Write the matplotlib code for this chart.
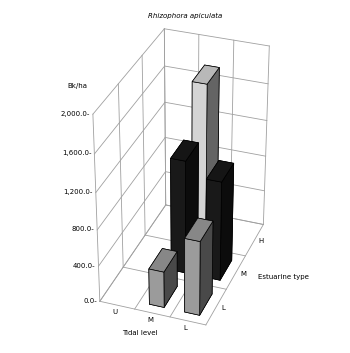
import matplotlib
matplotlib.use("Agg")
import matplotlib.pyplot as plt
import numpy as np

tidal_levels = ["U", "M", "L"]
estuarine_types = ["L", "M", "H"]
# density per tidal level (rows: estuarine type L, M, H)
density_L = [0, 400, 820]
density_M = [0, 1250, 1100]
density_H = [0, 1750, 0]
z_ticks = [0, 400, 800, 1200, 1600, 2000]
series_colors = ["#b0b0b0", "#1c1c1c", "#f0f0f0"]

fig = plt.figure(figsize=(3.5, 3.53), dpi=100)
ax = fig.add_axes([0.014, -0.005, 1.0, 1.0], projection="3d", proj_type="persp", focal_length=0.8)
ax.view_init(elev=32, azim=-70)
ax.set_box_aspect((0.6, 1.0, 1.15), zoom=0.85)

zmax = 2000
ax.set_xlim(0, 3)
ax.set_ylim(0, 3)
ax.set_zlim(0, zmax)
ax.set_axis_off()

gc = "#a0a0a0"
lw = 0.6
# back wall (y=3) grid
for xv in range(4):
    ax.plot([xv, xv], [3, 3], [0, zmax], color=gc, lw=lw)
for zv in z_ticks:
    ax.plot([0, 3], [3, 3], [zv, zv], color=gc, lw=lw)
# left wall (x=0) grid
for yv in range(4):
    ax.plot([0, 0], [yv, yv], [0, zmax], color=gc, lw=lw)
for zv in z_ticks:
    ax.plot([0, 0], [0, 3], [zv, zv], color=gc, lw=lw)
# floor grid
for xv in range(4):
    ax.plot([xv, xv], [0, 3], [0, 0], color=gc, lw=lw)
for yv in range(4):
    ax.plot([0, 3], [yv, yv], [0, 0], color=gc, lw=lw)

series = [density_L, density_M, density_H]
dx, dy = 0.42, 0.6
for j, vals in enumerate(series):
    for i, v in enumerate(vals):
        if v > 0:
            ax.bar3d(i + 0.5 - dx / 2, j + 0.5 - dy / 2, 0, dx, dy, v,
                     color=series_colors[j], edgecolor="black", linewidth=0.5,
                     shade=True)

for zv in z_ticks:
    ax.text(-0.08, 0, zv, f"{zv:,.1f}-", fontsize=5, ha="right", va="center")
for i, lab in enumerate(tidal_levels):
    ax.text(i + 0.5, -0.1, -40, lab, fontsize=5, ha="center", va="center")
for j, lab in enumerate(estuarine_types):
    ax.text(3.2, j + 0.5, 0, lab, fontsize=5, ha="center", va="center")

fig.text(0.53, 0.95, "Rhizophora apiculata", fontsize=5, style="italic", ha="center")
fig.text(0.40, 0.05, "Tidal level", fontsize=5, ha="center")
fig.text(0.81, 0.21, "Estuarine type", fontsize=5, ha="center")
fig.text(0.22, 0.75, "Bk/ha", fontsize=5, ha="center")

fig.savefig("out.png", dpi=100, facecolor="white")
